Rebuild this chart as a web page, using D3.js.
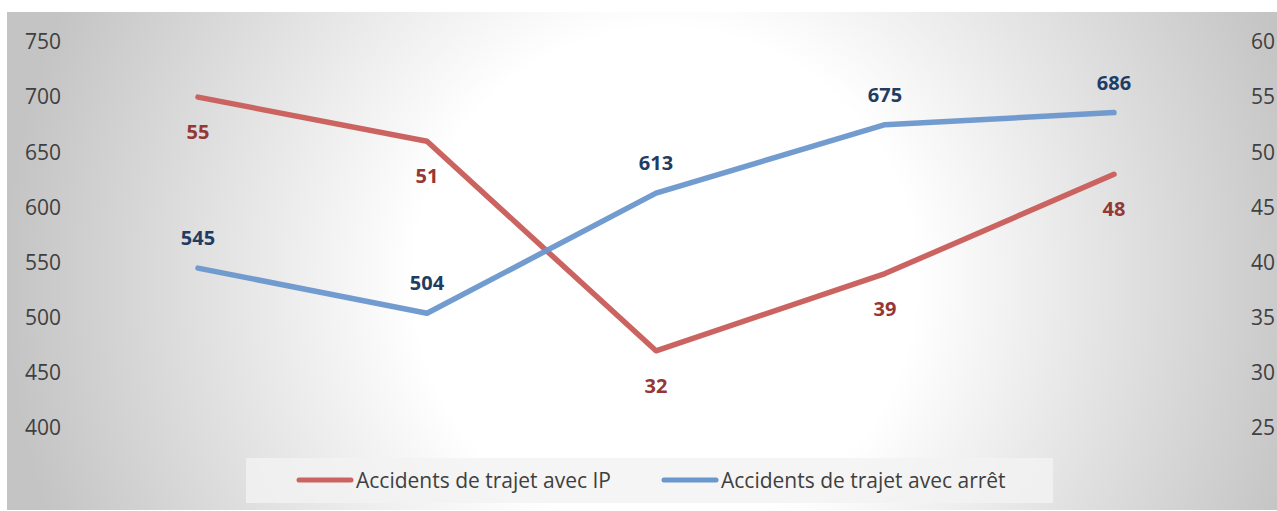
<!DOCTYPE html>
<html>
<head>
<meta charset="utf-8">
<script src="https://cdn.jsdelivr.net/npm/d3@7"></script>
<style>
  body { margin: 0; background: #fff; }
  text { font-family: "Open Sans", "Noto Sans", sans-serif; }
</style>
</head>
<body>
<div id="canvas"></div>
<script>
"use strict"

// data
let categories = ["1", "2", "3", "4", "5"]
let accidentsIP = [55, 51, 32, 39, 48]
let accidentsArret = [545, 504, 613, 675, 686]
let leftTicks = [400, 450, 500, 550, 600, 650, 700, 750]
let rightTicks = [25, 30, 35, 40, 45, 50, 55, 60]
let seriesNames = ["Accidents de trajet avec IP", "Accidents de trajet avec arrêt"]

let width = 1277
let height = 511

let drawing = d3.select("#canvas")
    .append("svg")
    .attr("width", width)
    .attr("height", height)

// background gradient, white in the middle, grey towards the edges
let defs = drawing.append("defs")
let grad = defs.append("radialGradient")
    .attr("id", "bg")
    .attr("gradientUnits", "userSpaceOnUse")
    .attr("cx", 665)
    .attr("cy", 280)
    .attr("r", 660)
grad.append("stop").attr("offset", "0%").attr("stop-color", "#ffffff")
grad.append("stop").attr("offset", "38%").attr("stop-color", "#ffffff")
grad.append("stop").attr("offset", "100%").attr("stop-color", "#c4c4c4")

let background = drawing.append("rect")
    .attr("x", 7)
    .attr("y", 12)
    .attr("width", width - 7)
    .attr("height", 498)
    .attr("fill", "url(#bg)")

// scales
let x = d3.scalePoint()
    .domain(categories)
    .range([198, 1114])

let yLeft = d3.scaleLinear()
    .domain([400, 750])
    .range([428, 42])

let yRight = d3.scaleLinear()
    .domain([25, 60])
    .range([428, 42])

// axes (labels only)
let leftAxis = drawing.append("g")
    .attr("transform", "translate(61,0)")
    .call(d3.axisLeft(yLeft).tickValues(leftTicks).tickSize(0).tickPadding(0))
leftAxis.select(".domain").remove()
leftAxis.selectAll("text")
    .attr("font-size", 21)
    .attr("fill", "#404040")
    .attr("font-family", "Open Sans")

let rightAxis = drawing.append("g")
    .attr("transform", "translate(1251,0)")
    .call(d3.axisRight(yRight).tickValues(rightTicks).tickSize(0).tickPadding(0))
rightAxis.select(".domain").remove()
rightAxis.selectAll("text")
    .attr("font-size", 21)
    .attr("fill", "#404040")
    .attr("font-family", "Open Sans")

// lines
let redColor = "#cb6461"
let blueColor = "#6a97cc"

let redLine = d3.line()
    .x((d, i) => x(categories[i]))
    .y(d => yRight(d))

let blueLine = d3.line()
    .x((d, i) => x(categories[i]))
    .y(d => yLeft(d))

drawing.append("path")
    .datum(accidentsIP)
    .attr("d", redLine)
    .attr("fill", "none")
    .attr("stroke", redColor)
    .attr("stroke-width", 5.5)
    .attr("stroke-linecap", "round")
    .attr("stroke-linejoin", "round")

drawing.append("path")
    .datum(accidentsArret)
    .attr("d", blueLine)
    .attr("fill", "none")
    .attr("stroke", blueColor)
    .attr("stroke-width", 5.5)
    .attr("stroke-linecap", "round")
    .attr("stroke-linejoin", "round")
    .attr("opacity", 0.95)

// data labels
drawing.selectAll(".redLabel")
    .data(accidentsIP)
    .enter()
    .append("text")
    .attr("class", "redLabel")
    .attr("x", (d, i) => x(categories[i]))
    .attr("y", d => yRight(d) + 42)
    .attr("text-anchor", "middle")
    .attr("font-size", 20)
    .attr("font-weight", "bold")
    .attr("fill", "#953735")
    .text(d => d)

drawing.selectAll(".blueLabel")
    .data(accidentsArret)
    .enter()
    .append("text")
    .attr("class", "blueLabel")
    .attr("x", (d, i) => x(categories[i]))
    .attr("y", d => yLeft(d) - 23)
    .attr("text-anchor", "middle")
    .attr("font-size", 20)
    .attr("font-weight", "bold")
    .attr("fill", "#1f3d63")
    .text(d => d)

// legend
let legendBox = drawing.append("rect")
    .attr("x", 246)
    .attr("y", 458)
    .attr("width", 807)
    .attr("height", 45)
    .attr("fill", "#f2f2f2")
    .attr("opacity", 0.8)

let legendX = [297, 662]
let legendColors = [redColor, blueColor]

seriesNames.forEach((name, i) => {
    drawing.append("line")
        .attr("x1", legendX[i] + 2)
        .attr("y1", 480)
        .attr("x2", legendX[i] + 54)
        .attr("y2", 480)
        .attr("stroke", legendColors[i])
        .attr("stroke-width", 5)
        .attr("stroke-linecap", "round")
    drawing.append("text")
        .attr("x", legendX[i] + 59)
        .attr("y", 488)
        .attr("font-size", 21)
        .attr("fill", "#404040")
        .text(name)
})
</script>
</body>
</html>
